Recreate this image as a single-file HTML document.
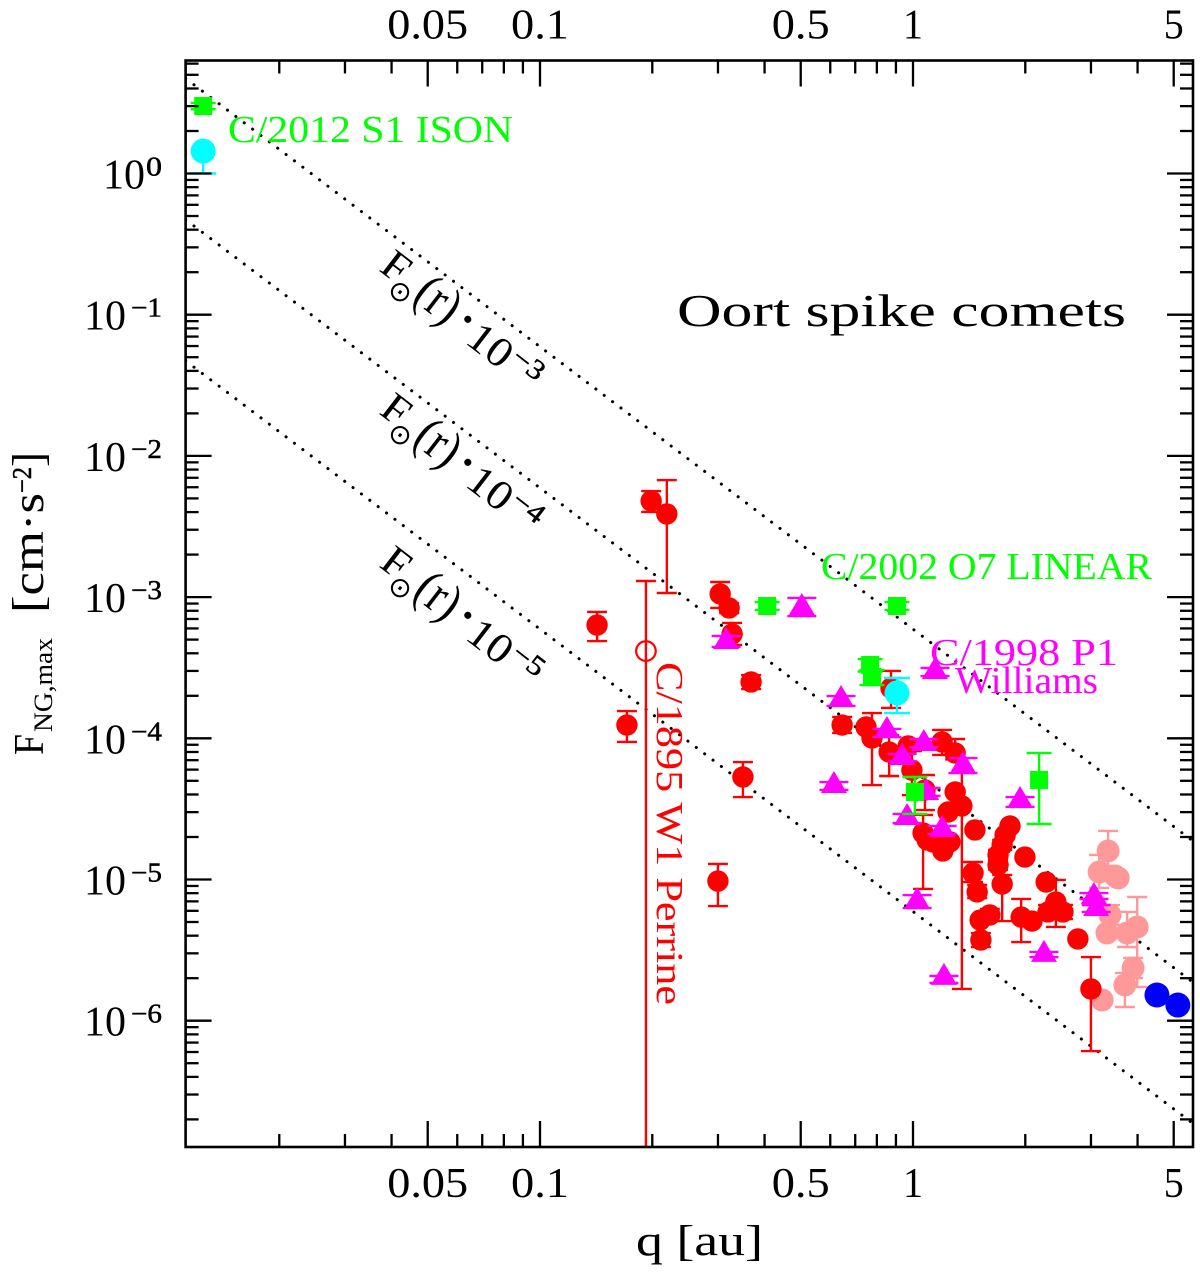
<!DOCTYPE html>
<html lang="en">
<head>
<meta charset="utf-8">
<title>Oort spike comets</title>
<style>
html,body{margin:0;padding:0;background:#fff;width:1200px;height:1272px;overflow:hidden}
svg{display:block}
text{font-family:"Liberation Serif",serif;fill:#000}
</style>
</head>
<body>
<svg id="chart" xmlns="http://www.w3.org/2000/svg" width="1200" height="1272" viewBox="0 0 1200 1272">
  <defs><clipPath id="plot-clip"><rect x="185.6" y="60.5" width="1007.4" height="1086.5"/></clipPath></defs>
  <g id="lines" clip-path="url(#plot-clip)"></g>
  <g id="marks" clip-path="url(#plot-clip)"></g>
  <rect x="185.6" y="60.5" width="1007.4" height="1086.5" fill="none" stroke="#000" stroke-width="2.6"/>
  <g id="ticks"></g>
  <g id="tick-labels"></g>

  <text x="636" y="1255" font-size="43" textLength="127" lengthAdjust="spacingAndGlyphs">q [au]</text>
  <g>
    <text transform="translate(43,755) rotate(-90)" font-size="42" textLength="21" lengthAdjust="spacingAndGlyphs">F</text>
    <text transform="translate(52,732) rotate(-90)" font-size="26" textLength="94" lengthAdjust="spacingAndGlyphs">NG,max</text>
    <text transform="translate(43,613) rotate(-90)" font-size="44" textLength="120" lengthAdjust="spacingAndGlyphs">[cm·s</text>
    <text transform="translate(31,493) rotate(-90)" font-size="27" stroke="#000" stroke-width="0.5" textLength="26" lengthAdjust="spacingAndGlyphs">−2</text>
    <text transform="translate(43,467) rotate(-90)" font-size="44" textLength="15" lengthAdjust="spacingAndGlyphs">]</text>
  </g>

  <text x="677" y="326" font-size="46" textLength="449" lengthAdjust="spacingAndGlyphs">Oort spike comets</text>

  <g transform="translate(378,270) rotate(37.5)">
    <text x="0" y="0" font-size="42" textLength="25" lengthAdjust="spacingAndGlyphs">F</text>
    <text x="31" y="13" font-size="28" text-anchor="middle" style="font-family:'DejaVu Sans',sans-serif">⊙</text>
    <text x="44" y="3" font-size="52" textLength="44" lengthAdjust="spacingAndGlyphs">(r)</text>
    <text x="94" y="-1" font-size="44" font-weight="bold">·</text>
    <text x="112" y="5" font-size="42" textLength="46" lengthAdjust="spacingAndGlyphs">10</text>
    <text x="160" y="-8" font-size="28" stroke="#000" stroke-width="0.5" textLength="34" lengthAdjust="spacingAndGlyphs">−3</text>
  </g>
  <g transform="translate(378,413) rotate(37.5)">
    <text x="0" y="0" font-size="42" textLength="25" lengthAdjust="spacingAndGlyphs">F</text>
    <text x="31" y="13" font-size="28" text-anchor="middle" style="font-family:'DejaVu Sans',sans-serif">⊙</text>
    <text x="44" y="3" font-size="52" textLength="44" lengthAdjust="spacingAndGlyphs">(r)</text>
    <text x="94" y="-1" font-size="44" font-weight="bold">·</text>
    <text x="112" y="5" font-size="42" textLength="46" lengthAdjust="spacingAndGlyphs">10</text>
    <text x="160" y="-8" font-size="28" stroke="#000" stroke-width="0.5" textLength="34" lengthAdjust="spacingAndGlyphs">−4</text>
  </g>
  <g transform="translate(378,566) rotate(37.5)">
    <text x="0" y="0" font-size="42" textLength="25" lengthAdjust="spacingAndGlyphs">F</text>
    <text x="31" y="13" font-size="28" text-anchor="middle" style="font-family:'DejaVu Sans',sans-serif">⊙</text>
    <text x="44" y="3" font-size="52" textLength="44" lengthAdjust="spacingAndGlyphs">(r)</text>
    <text x="94" y="-1" font-size="44" font-weight="bold">·</text>
    <text x="112" y="5" font-size="42" textLength="46" lengthAdjust="spacingAndGlyphs">10</text>
    <text x="160" y="-8" font-size="28" stroke="#000" stroke-width="0.5" textLength="34" lengthAdjust="spacingAndGlyphs">−5</text>
  </g>

  <text x="228" y="142" font-size="38" style="fill:#00ff00" textLength="285" lengthAdjust="spacingAndGlyphs">C/2012 S1 ISON</text>
  <text x="821" y="579" font-size="38" style="fill:#00ff00" textLength="331" lengthAdjust="spacingAndGlyphs">C/2002 O7 LINEAR</text>
  <text x="930" y="665" font-size="38" style="fill:#ff00ff" textLength="188" lengthAdjust="spacingAndGlyphs">C/1998 P1</text>
  <text x="955" y="693" font-size="38" style="fill:#ff00ff" textLength="143" lengthAdjust="spacingAndGlyphs">Williams</text>
  <text transform="translate(657,662) rotate(90)" font-size="38" style="fill:#ff0000" textLength="343" lengthAdjust="spacingAndGlyphs">C/1895 W1 Perrine</text>
</svg>

<script>
// ---- axis tick labels ----
var xTickLabels = ["0.05", "0.1", "0.5", "1", "5"];
var yTickExponents = [0, -1, -2, -3, -4, -5, -6];
// ---- reference lines: F(r) = solarF1au * r^-2 * 10^k ----
var solarF1au = 0.593;
var lineExponents = [-3, -4, -5];

// ---- series values: log10(q/au), log10(F), error bar ends in log10(F) (null = none) ----
var redLogQ = [-0.702,-0.660,-0.847,-0.767,-0.517,-0.493,-0.485,-0.434,-0.456,-0.523,-0.190,-0.126,-0.110,-0.064,-0.059,-0.013,-0.003,0.078,0.113,0.032,0.113,0.131,0.094,0.166,0.260,0.247,0.239,0.228,0.228,0.300,0.357,0.161,0.172,0.239,0.206,0.180,0.182,0.290,0.319,0.383,0.362,0.402,0.027,0.038,0.080,0.099,0.054,0.442,0.477];
var redLogF = [-2.319,-2.411,-3.198,-3.906,-2.978,-3.077,-3.261,-3.601,-4.274,-5.011,-3.906,-3.920,-3.998,-4.097,-3.644,-4.054,-4.225,-4.026,-4.104,-4.366,-4.380,-4.479,-4.522,-4.649,-4.621,-4.685,-4.756,-4.827,-4.897,-4.841,-5.018,-4.954,-5.088,-5.032,-5.251,-5.287,-5.428,-5.266,-5.294,-5.159,-5.230,-5.230,-4.671,-4.720,-4.798,-4.734,-4.734,-5.421,-5.775];
var redLogHi = [-2.249,-2.171,-3.105,-3.807,-2.893,-3.042,-3.183,-3.552,-4.168,-4.890,-3.849,null,-3.821,-3.977,-3.523,null,-4.090,-3.941,-4.005,-4.260,null,-4.225,null,null,null,null,-4.720,-4.790,-4.860,null,null,-4.876,-5.039,-4.968,-5.209,null,-5.379,-5.138,null,-5.003,-5.180,-5.180,-4.543,null,null,null,null,null,-5.549];
var redLogLo = [-2.397,-2.971,-3.311,-4.026,-3.077,-3.113,-3.339,-3.651,-4.416,-5.188,-3.962,null,-4.331,-4.267,-3.785,null,-4.402,-4.118,-4.150,-4.508,null,-5.775,null,null,null,null,-4.790,-4.860,-4.930,null,null,-5.018,-5.131,-5.294,-5.294,null,-5.478,-5.443,null,-5.336,-5.280,-5.280,-5.067,null,null,null,null,null,-6.215];

var openLogQ = [-0.716];
var openLogF = [-3.382];
var openLogHi = [-2.886];
var openLogLo = [-7.5];

var magentaLogQ = [-0.298,-0.501,0.059,-0.193,-0.212,-0.070,0.029,-0.029,0.134,0.287,-0.016,0.078,0.035,0.011,0.083,0.351,0.485,0.491];
var magentaLogF = [-3.070,-3.311,-3.523,-3.722,-4.331,-3.941,-4.033,-4.132,-4.189,-4.437,-4.557,-4.642,-4.380,-5.152,-5.690,-5.527,-5.117,-5.202];
var magentaLogHi = [-3.006,-3.275,-3.502,-3.701,-4.310,-3.934,-4.005,-4.111,-4.140,-4.416,-4.536,-4.621,-4.352,-5.110,-5.683,-5.513,-5.096,-5.181];
var magentaLogLo = [-3.134,-3.353,-3.559,-3.771,-4.366,-3.991,-4.064,-4.161,-4.246,-4.486,-4.600,-4.678,-4.408,-5.202,-5.733,-5.549,-5.138,-5.230];

var pinkLogQ = [0.523,0.499,0.550,0.542,0.528,0.520,0.574,0.601,0.590,0.568,0.507];
var pinkLogF = [-4.798,-4.947,-4.989,-4.975,-5.251,-5.379,-5.379,-5.336,-5.627,-5.747,-5.853];
var pinkLogHi = [-4.656,-4.826,null,null,-5.181,null,-5.230,-5.124,-5.556,-5.662,null];
var pinkLogLo = [-4.904,-5.060,null,null,-5.322,null,-5.478,-5.761,-5.698,-5.903,null];

var blueLogQ = [0.654,0.710];
var blueLogF = [-5.818,-5.889];

var cyanLogQ = [-1.903,-0.043];
var cyanLogF = [0.159,-3.679];
var cyanLogHi = [null,-3.573];
var cyanLogLo = [0.0,-3.821];

var greenLogQ = [-1.903,-0.391,-0.043,-0.115,-0.110,0.005,0.338];
var greenLogF = [0.478,-3.063,-3.063,-3.481,-3.566,-4.380,-4.295];
var greenLogHi = [0.500,-3.035,-3.035,-3.439,-3.516,-4.274,-4.104];
var greenLogLo = [0.455,-3.091,-3.091,-3.527,-3.623,-4.536,-4.607];

// ---- axis functions ----
var NS = "http://www.w3.org/2000/svg";
var LEFT = 185.6, RIGHT = 1193, TOP = 60.5, BOTTOM = 1147;
function xAt(logQ) { return 913 + 373 * logQ; }
function yAt(logF) { return 173.5 - 141.2 * logF; }
function node(tag, parent) {
  var el = document.createElementNS(NS, tag);
  parent.appendChild(el);
  return el;
}
function seg(parent, x1, y1, x2, y2, color, w) {
  var el = node("line", parent);
  el.setAttribute("x1", x1); el.setAttribute("y1", y1);
  el.setAttribute("x2", x2); el.setAttribute("y2", y2);
  el.setAttribute("stroke", color); el.setAttribute("stroke-width", w);
  return el;
}

// ---- ticks ----
var ticksG = document.getElementById("ticks");
function xTick(q, major) {
  var x = xAt(Math.log10(q));
  if (x <= LEFT || x >= RIGHT) return;
  var len = major ? 26 : 13;
  var a = seg(ticksG, x, BOTTOM, x, BOTTOM - len, "#000", 2.3);
  
  
  var b = seg(ticksG, x, TOP, x, TOP + len, "#000", 2.3);
  
  
}
[0.01, 0.1, 1].forEach(function (d) {
  for (var m = 1; m <= 9; m++) xTick(d * m, m === 1 || m === 5);
});
function yTick(v, major) {
  var y = yAt(v);
  if (y <= TOP || y >= BOTTOM) return;
  var len = major ? 26 : 13;
  var a = seg(ticksG, LEFT, y, LEFT + len, y, "#000", 2.3);
  
  
  var b = seg(ticksG, RIGHT, y, RIGHT - len, y, "#000", 2.3);
  
  
}
for (var e = -7; e <= 0; e++) {
  for (var m = 1; m <= 9; m++) yTick(e + Math.log10(m), m === 1);
}

// ---- tick labels ----
var labelsG = document.getElementById("tick-labels");
function stretchedText(str, x, y, size, width, anchor) {
  var t = node("text", labelsG);
  t.textContent = str;
  t.setAttribute("x", x); t.setAttribute("y", y);
  t.setAttribute("font-size", size);
  if (anchor) t.setAttribute("text-anchor", anchor);
  t.setAttribute("textLength", width);
  t.setAttribute("lengthAdjust", "spacingAndGlyphs");
  return t;
}
xTickLabels.forEach(function (s) {
  var cx = xAt(Math.log10(parseFloat(s)));
  var w = s.length === 1 ? 20 : (s.length === 3 ? 58 : 81);
  var a = stretchedText(s, cx - w / 2, 38.5, 42, w);
  
  
  var b = stretchedText(s, cx - w / 2, 1197, 42, w);
  
  
});
yTickExponents.forEach(function (k) {
  var y = yAt(k);
  var base = stretchedText("10", k === 0 ? 103 : 84, y + 15, 42, 42);
  
  
  var txt = k === 0 ? "0" : "\u2212" + (-k);
  var sup = stretchedText(txt, k === 0 ? 146 : 131, y + 2, 27, k === 0 ? 16 : 31);
  sup.setAttribute("stroke", "#000");
  sup.setAttribute("stroke-width", "0.5");
  
  
});

// ---- reference lines ----
var linesG = document.getElementById("lines");
lineExponents.forEach(function (k) {
  var logA = Math.log10(solarF1au) + k;
  var lq1 = (LEFT - 913) / 373, lq2 = (RIGHT - 913) / 373;
  var l = seg(linesG, xAt(lq1), yAt(logA - 2 * lq1), xAt(lq2), yAt(logA - 2 * lq2), "#000", 3);
  l.setAttribute("stroke-linecap", "round");
  l.setAttribute("stroke-dasharray", "0.1 10.4");
  
  
});

// ---- data marks ----
var marksG = document.getElementById("marks");
function drawErr(g, x, hi, lo, yMid, color, capHalf) {
  if (hi !== null && hi !== undefined) {
    seg(g, x, yMid, x, yAt(hi), color, 2.4);
    seg(g, x - capHalf, yAt(hi), x + capHalf, yAt(hi), color, 2.4);
  }
  if (lo !== null && lo !== undefined) {
    seg(g, x, yMid, x, yAt(lo), color, 2.4);
    seg(g, x - capHalf, yAt(lo), x + capHalf, yAt(lo), color, 2.4);
  }
}
function drawSeries(logQ, logF, logHi, logLo, color, shape, capHalf, pointName) {
  logQ.forEach(function (lq, i) {
    var x = xAt(lq), y = yAt(logF[i]);
    var g = node("g", marksG);
    
    
    if (logHi) drawErr(g, x, logHi[i], logLo[i], y, color, capHalf);
    var m;
    if (shape === "square") {
      m = node("rect", g);
      m.setAttribute("x", x - 9); m.setAttribute("y", y - 9);
      m.setAttribute("width", 18); m.setAttribute("height", 18);
      m.setAttribute("fill", color);
    } else if (shape === "triangle") {
      m = node("polygon", g);
      m.setAttribute("points", x + "," + (y - 14) + " " + (x + 13) + "," + (y + 8) + " " + (x - 13) + "," + (y + 8));
      m.setAttribute("fill", color);
    } else if (shape === "open") {
      m = node("circle", g);
      m.setAttribute("cx", x); m.setAttribute("cy", y); m.setAttribute("r", 9.8);
      m.setAttribute("fill", "none"); m.setAttribute("stroke", color); m.setAttribute("stroke-width", 2.2);
    } else {
      m = node("circle", g);
      m.setAttribute("cx", x); m.setAttribute("cy", y);
      m.setAttribute("r", shape === "big" ? 12.5 : (shape === "pink" ? 11.5 : 10.7));
      m.setAttribute("fill", color);
    }
  });
}
drawSeries(pinkLogQ, pinkLogF, pinkLogHi, pinkLogLo, "#ff9999", "pink", 10, "pink-point");
drawSeries(redLogQ, redLogF, redLogHi, redLogLo, "#ff0000", "circle", 10, "red-point");
drawSeries(openLogQ, openLogF, openLogHi, openLogLo, "#ff0000", "open", 10, "perrine-point");
drawSeries(magentaLogQ, magentaLogF, magentaLogHi, magentaLogLo, "#ff00ff", "triangle", 14.5, "magenta-point");
drawSeries(greenLogQ, greenLogF, greenLogHi, greenLogLo, "#00ff00", "square", 12.5, "green-point");
drawSeries(blueLogQ, blueLogF, null, null, "#0000ff", "big", 0, "blue-point");
drawSeries(cyanLogQ, cyanLogF, cyanLogHi, cyanLogLo, "#00ffff", "big", 13, "cyan-point");
</script>
</body>
</html>
